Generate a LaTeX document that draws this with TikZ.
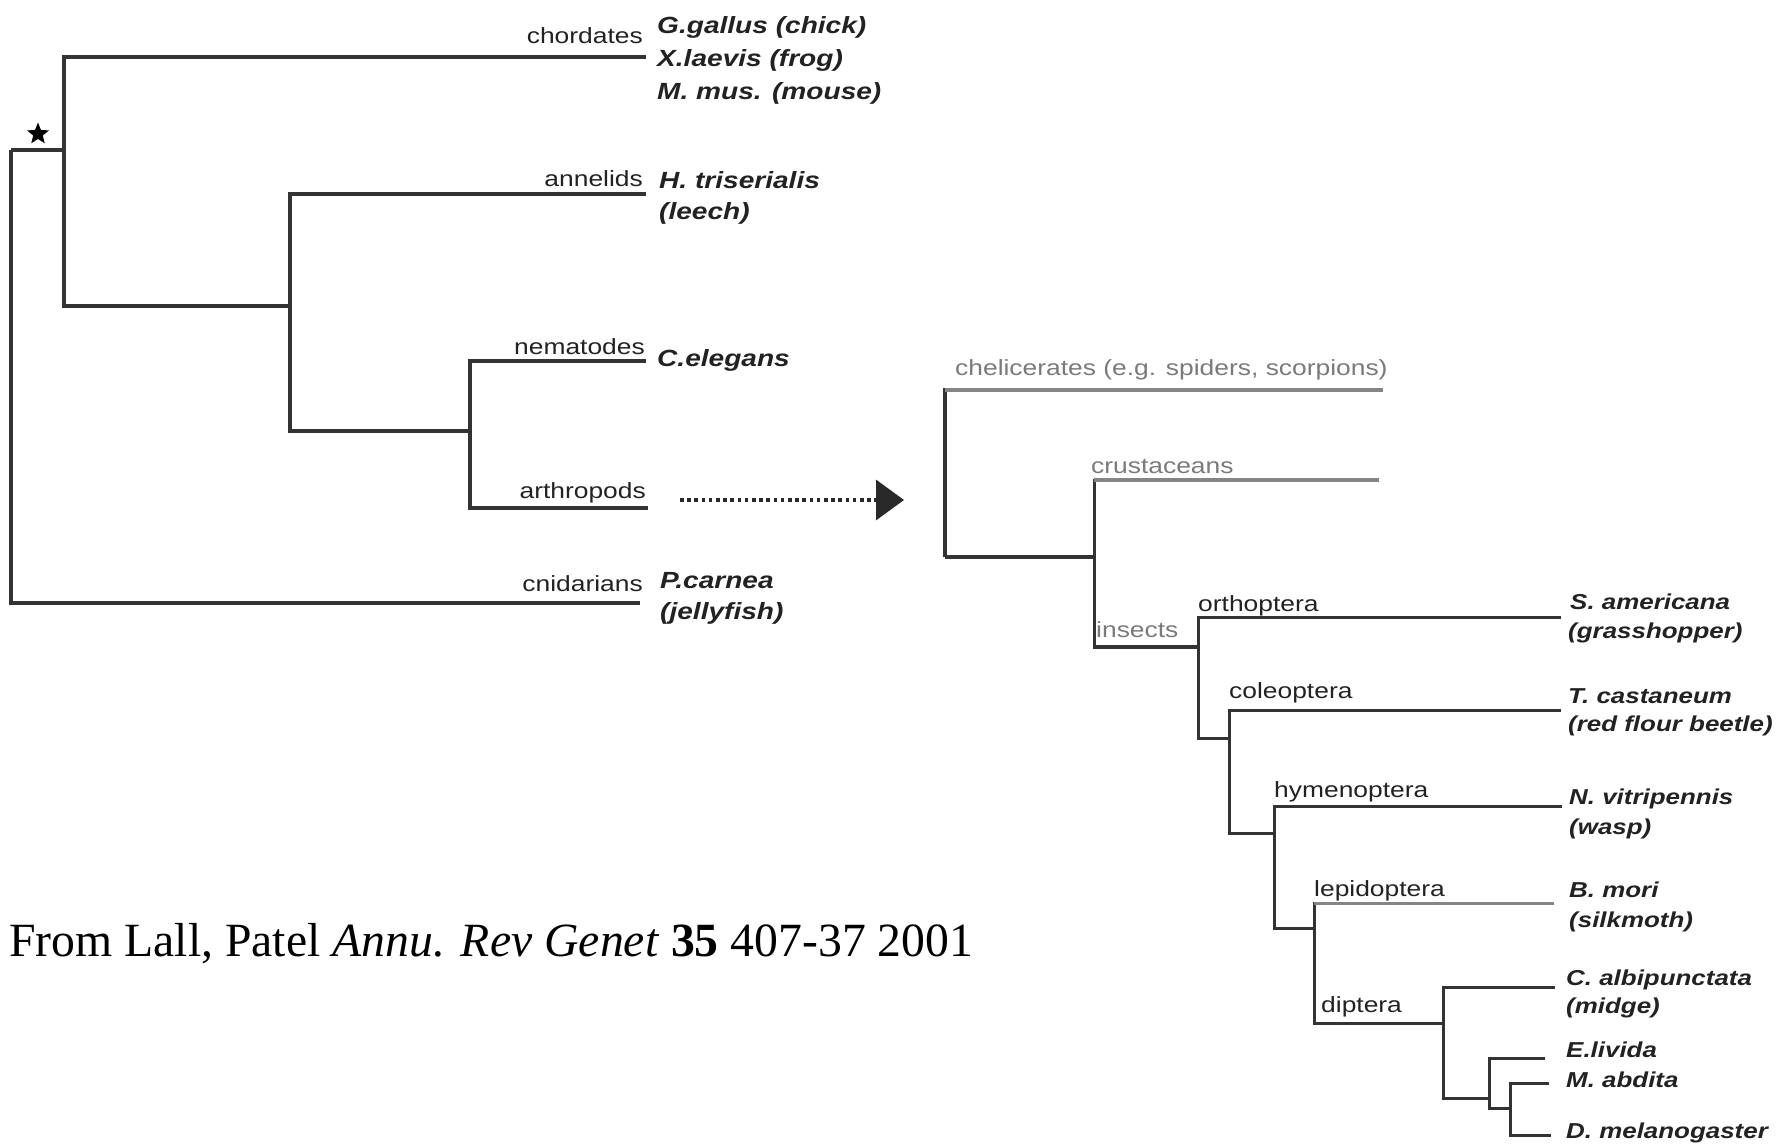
\documentclass[tikz,border=0pt]{standalone}
\usepackage{fontspec}
\setmainfont{Liberation Serif}
\newfontfamily\labfont[FakeStretch=1.2]{Liberation Sans}
\usetikzlibrary{arrows.meta,shapes.geometric}
\definecolor{branch}{HTML}{333333}
\definecolor{branchlt}{HTML}{858585}
\definecolor{labtext}{HTML}{222222}
\definecolor{labgray}{HTML}{7A7A7A}

\begin{document}
\begin{tikzpicture}[x=1pt,y=-1pt,
  edge/.style={draw=branch,line width=4},
  thinedge/.style={draw=branch,line width=3},
  lightedge/.style={draw=branchlt,line width=4},
  clade/.style={font=\labfont\fontsize{22}{26}\selectfont,text=labtext,inner sep=0,anchor=base east},
  cladeR/.style={font=\labfont\fontsize{22}{26}\selectfont,text=labtext,inner sep=0,anchor=base west},
  cladeG/.style={cladeR,text=labgray},
  species/.style={font=\labfont\bfseries\itshape\fontsize{23.4}{28}\selectfont,text=labtext,inner sep=0,anchor=base west},
  speciesR/.style={font=\labfont\bfseries\itshape\fontsize{21.6}{26}\selectfont,text=labtext,inner sep=0,anchor=base west},
  starmark/.style={star,star points=5,star point ratio=2.3,fill=black,inner sep=0,minimum size=23}]

\useasboundingbox (0,0) rectangle (1782,1144);

% ---------------- metazoan tree ----------------
\coordinate (root) at (11,150);
\coordinate (bil) at (64,150);
\coordinate (pro) at (290,306);
\coordinate (ecd) at (470,431);
\coordinate (chT) at (646,57);
\coordinate (anT) at (646,194);
\coordinate (neT) at (646,361);
\coordinate (arT) at (648,508);
\coordinate (cnT) at (640,603);

\draw[edge] (root) |- (bil);
\draw[edge] (root) |- (cnT);
\draw[edge] (bil) |- (chT);
\draw[edge] (bil) |- (pro);
\draw[edge] (pro) |- (anT);
\draw[edge] (pro) |- (ecd);
\draw[edge] (ecd) |- (neT);
\draw[edge] (ecd) |- (arT);

\node[starmark] (star) at (38,134) {};

\node[clade] (lchord) at (643,43) {chordates};
\node[clade] (lannel) at (643,186) {annelids};
\node[clade] (lnemat) at (645,354) {nematodes};
\node[clade] (larthr) at (646,498) {arthropods};
\node[clade] (lcnida) at (643,591) {cnidarians};

\node[species] (sgal) at (657,33) {G.gallus (chick)};
\node[species] (slae) at (657,66) {X.laevis (frog)};
\node[species] (smus) at (657,99) {M. mus. (mouse)};
\node[species] (stri) at (659,188) {H. triserialis};
\node[species] (slee) at (659,219) {(leech)};
\node[species] (sele) at (657,366) {C.elegans};
\node[species] (scar) at (660,588) {P.carnea};
\node[species] (sjel) at (660,619) {(jellyfish)};

% ---------------- link to the arthropod tree ----------------
\coordinate (zoomS) at (680,500);
\coordinate (zoomE) at (904,500);
\draw[branch!80!black,line width=3.5,dash pattern=on 3.5 off 3.7,
      -{Triangle[length=28,width=40]}] (zoomS) -- (zoomE);

% ---------------- arthropod tree ----------------
\coordinate (art) at (945,557);
\coordinate (man) at (1094,557);
\coordinate (ins) at (1198,647);
\coordinate (hol) at (1229,738);
\coordinate (apr) at (1274,833);
\coordinate (mec) at (1314,928);
\coordinate (dip) at (1443,1023);
\coordinate (bra) at (1489,1098);
\coordinate (dro) at (1510,1108);

\coordinate (cheT) at (1383,390);
\coordinate (cruT) at (1379,480);
\coordinate (ortT) at (1561,617);
\coordinate (colT) at (1561,710);
\coordinate (hymT) at (1562,806);
\coordinate (lepT) at (1554,903);
\coordinate (albT) at (1555,987);
\coordinate (livT) at (1545,1058);
\coordinate (abdT) at (1549,1083);
\coordinate (melT) at (1551,1135);

\draw[edge] (art) |- (cheT);
\draw[lightedge] (art |- cheT) -- (cheT);
\draw[edge] (art) -- (man);
\draw[thinedge] (man) |- (cruT);
\draw[lightedge] (man |- cruT) -- (cruT);
\draw[thinedge] (man) |- (ins);
\draw[edge] (man |- ins) -- (ins);
\draw[thinedge] (ins) |- (ortT);
\draw[thinedge] (ins) |- (hol);
\draw[thinedge] (hol) |- (colT);
\draw[thinedge] (hol) |- (apr);
\draw[thinedge] (apr) |- (hymT);
\draw[thinedge] (apr) |- (mec);
\draw[thinedge] (mec) |- (lepT);
\draw[thinedge,draw=branchlt] (mec |- lepT) -- (lepT);
\draw[thinedge] (mec) |- (dip);
\draw[thinedge] (dip) |- (albT);
\draw[thinedge] (dip) |- (bra);
\draw[thinedge] (bra) |- (livT);
\draw[thinedge] (bra) |- (dro);
\draw[thinedge] (dro) |- (abdT);
\draw[thinedge] (dro) |- (melT);

\node[cladeG] (lchel) at (955,375) {chelicerates (e.g. spiders, scorpions)};
\node[cladeG] (lcrus) at (1091,473) {crustaceans};
\node[cladeG] (linse) at (1096,637) {insects};
\node[cladeR] (lorth) at (1198,611) {orthoptera};
\node[cladeR] (lcole) at (1229,698) {coleoptera};
\node[cladeR] (lhyme) at (1274,797) {hymenoptera};
\node[cladeR] (llepi) at (1314,896) {lepidoptera};
\node[cladeR] (ldipt) at (1321,1012) {diptera};

\node[speciesR] (samer) at (1570,609) {S. americana};
\node[speciesR] (sgras) at (1568,638) {(grasshopper)};
\node[speciesR] (scast) at (1568,703) {T. castaneum};
\node[speciesR] (sbeet) at (1568,731) {(red flour beetle)};
\node[speciesR] (svitr) at (1569,804) {N. vitripennis};
\node[speciesR] (swasp) at (1569,834) {(wasp)};
\node[speciesR] (smori) at (1569,897) {B. mori};
\node[speciesR] (ssilk) at (1569,927) {(silkmoth)};
\node[speciesR] (salbi) at (1566,985) {C. albipunctata};
\node[speciesR] (smidg) at (1566,1013) {(midge)};
\node[speciesR] (sliv) at (1566,1057) {E.livida};
\node[speciesR] (sabd) at (1566,1087) {M. abdita};
\node[speciesR] (smel) at (1566,1138) {D. melanogaster};

% ---------------- source ----------------
\node[anchor=base west,inner sep=0,font=\fontsize{47.7}{56}\selectfont] (cite) at (9,956)
  {From Lall, Patel \textit{Annu. Rev Genet} \textbf{35} 407-37 2001};
\end{tikzpicture}
\end{document}
